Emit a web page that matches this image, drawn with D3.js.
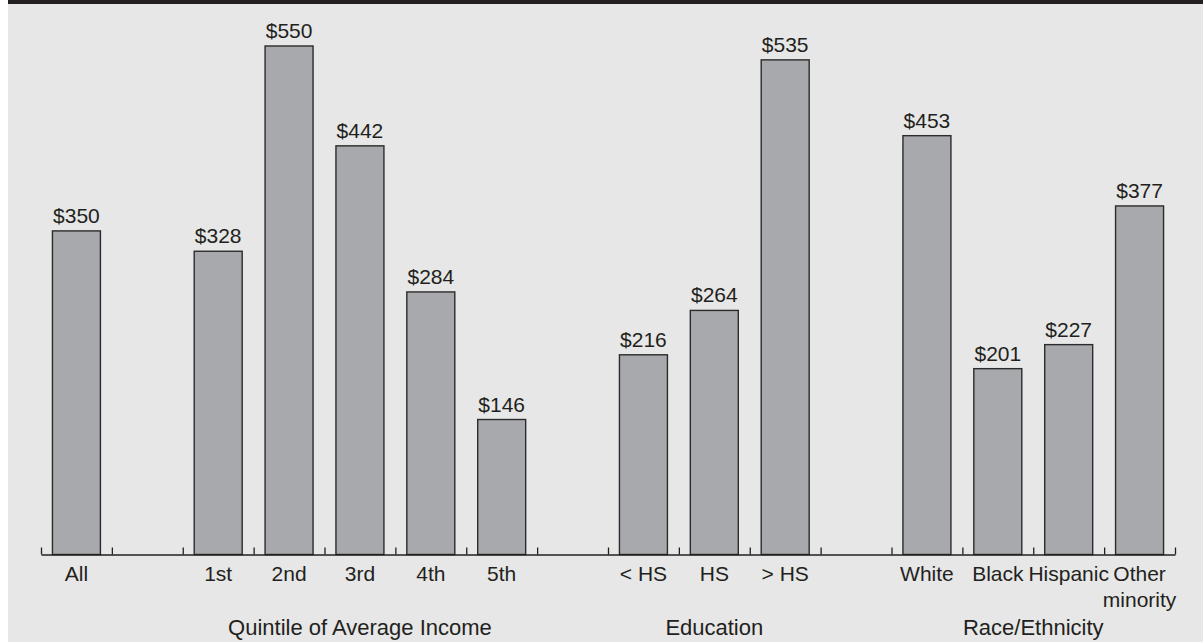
<!DOCTYPE html>
<html>
<head>
<meta charset="utf-8">
<script src="https://cdn.jsdelivr.net/npm/d3@7"></script>
<style>
  html, body { margin: 0; padding: 0; background: #ffffff; }
  svg { display: block; }
  text { font-family: "Liberation Sans", Arial, Helvetica, sans-serif; fill: #231f20; }
</style>
</head>
<body>
<div id="chart"></div>
<script>
// ---- data ----
const categories = ["All", "", "1st", "2nd", "3rd", "4th", "5th", "", "< HS", "HS", "> HS", "", "White", "Black", "Hispanic", "Other\nminority"];
const values = [350, null, 328, 550, 442, 284, 146, null, 216, 264, 535, null, 453, 201, 227, 377];
const groupLabels = ["Quintile of Average Income", "Education", "Race/Ethnicity"];
const groupStart = [2, 8, 12];
const groupEnd = [6, 10, 15];

// ---- layout ----
const W = 1203, H = 642;
const svg = d3.select("#chart").append("svg").attr("width", W).attr("height", H);

svg.append("rect").attr("x", 8).attr("y", 0).attr("width", W - 8).attr("height", H).attr("fill", "#e6e7e6");
svg.append("rect").attr("x", 8).attr("y", 0).attr("width", W - 8).attr("height", 4).attr("fill", "#231f20");

const x0 = 41, x1 = 1175, yBase = 554.5;
const n = categories.length;
const slot = d3.scaleLinear().domain([0, n]).range([x0, x1]);
const band = d3.scaleBand().domain(d3.range(n)).range([x0, x1]).padding(0);
const y = d3.scaleLinear().domain([0, 550]).range([yBase, 46]);
const barW = band.bandwidth() * 0.677;

const data = categories.map((c, i) => ({ c, v: values[i], i })).filter(d => d.v != null);

svg.selectAll("rect.bar").data(data).enter().append("rect")
  .attr("class", "bar")
  .attr("x", d => band(d.i) + band.bandwidth() / 2 - barW / 2)
  .attr("y", d => y(d.v))
  .attr("width", barW)
  .attr("height", d => y(0) - y(d.v))
  .attr("fill", "#a8a9ac")
  .attr("stroke", "#2b2b2b")
  .attr("stroke-width", 1.4);

svg.selectAll("text.val").data(data).enter().append("text")
  .attr("class", "val")
  .attr("x", d => band(d.i) + band.bandwidth() / 2)
  .attr("y", d => y(d.v) - 8)
  .attr("text-anchor", "middle")
  .attr("font-size", 21)
  .text(d => "$" + d.v);

// axis
const axis = d3.axisBottom(slot).tickValues(d3.range(n + 1)).tickSize(-7).tickSizeOuter(0).tickFormat("");
const gAxis = svg.append("g").attr("transform", `translate(0,${yBase})`).call(axis);
gAxis.selectAll("path, line").attr("stroke", "#231f20").attr("stroke-width", 1.3);

// category labels
const catG = svg.selectAll("text.cat").data(categories.map((c, i) => ({ c, i })).filter(d => d.c !== ""))
  .enter().append("text")
  .attr("class", "cat")
  .attr("text-anchor", "middle")
  .attr("font-size", 21)
  .attr("y", 581);
catG.each(function(d) {
  const lines = d.c.split("\n");
  const t = d3.select(this);
  lines.forEach((l, k) => {
    t.append("tspan")
      .attr("x", band(d.i) + band.bandwidth() / 2)
      .attr("dy", k === 0 ? 0 : 26)
      .text(l);
  });
});

// group labels
svg.selectAll("text.grp").data(groupLabels).enter().append("text")
  .attr("class", "grp")
  .attr("text-anchor", "middle")
  .attr("font-size", 22)
  .attr("x", (d, k) => (slot(groupStart[k]) + slot(groupEnd[k] + 1)) / 2)
  .attr("y", 635)
  .text(d => d);
</script>
</body>
</html>
